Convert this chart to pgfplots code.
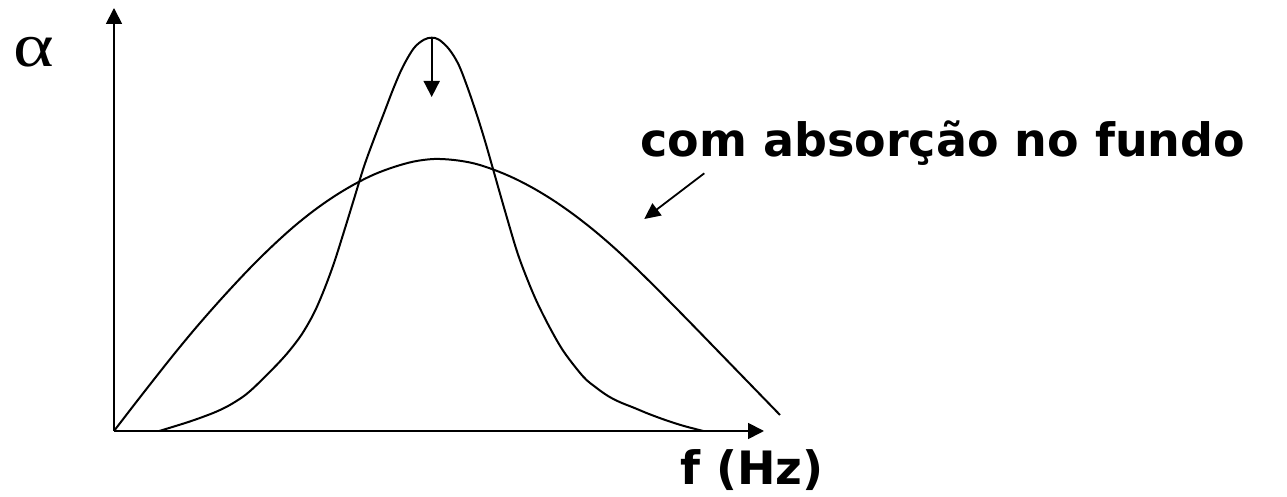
\documentclass[border=0pt]{standalone}
\usepackage{fontspec}
\setmainfont{DejaVu Sans}
\newfontfamily\seriffont{Liberation Serif}
\usepackage{graphicx}
\usepackage{pgfplots}
\pgfplotsset{compat=1.18}
\usetikzlibrary{arrows.meta}
\begin{document}
\begin{tikzpicture}
\begin{axis}[
  x=0.5pt, y=0.5pt,
  xmin=0, xmax=650, ymin=0, ymax=423,
  enlargelimits=false,
  axis lines=left,
  axis line style={line width=0.9pt},
  x axis line style={-{Triangle[width=8pt,length=8pt]}},
  y axis line style={-{Triangle[width=8pt,length=8pt]}},
  ticks=none,
  clip=false,
]
% broad curve (com absorcao no fundo)
\addplot[black, line width=1pt, smooth, tension=0.55] coordinates {
 (0,0) (20,26) (40,51.6) (60,76.8) (80,101) (100,124) (120,146) (140,167)
 (160,186.5) (180,204.5) (200,220.5) (220,234.5) (240,246.5) (260,256.5) (280,264)
 (300,269.5) (320,272) (340,271) (360,267.6) (380,261.2) (400,252.8)
 (420,242.4) (440,230.2) (460,216.2) (480,200.6) (500,183.4) (520,164.8)
 (540,145.2) (560,125) (580,104.6) (600,84) (620,63.4) (640,42.8) (660,22.2)
 (666,16)
};
% narrow curve
\addplot[black, line width=1pt, smooth, tension=0.55] coordinates {
 (45.3,0) (60,4.5) (75,9.2) (90,14.5) (102.7,19.5) (115,25.5) (129.3,34.5)
 (140,43.5) (152.7,56) (165,68.5) (176,81) (188,97) (200,118) (210,141)
 (220,168) (230,199.5) (240,232) (250,264.5) (260,292) (270,318) (280,344)
 (289,364.5) (300,383) (310,391.3) (317.7,393.3) (325,391.3) (335,381.9)
 (344.3,367) (353,345) (362.7,316.7) (371,290) (379.3,261) (391,220)
 (402.7,180.5) (412,155) (422.7,129.5) (436,103) (450,79) (469.3,54.3) (482,43.5)
 (494,35) (506,28.8) (519.3,23.5) (535,17) (552.7,10.5) (570,5) (589.3,0)
};
\draw[line width=0.9pt, -{Triangle[width=8pt,length=8pt]}]
  (axis cs:317.7,393.3) -- (axis cs:317.7,334);
\draw[line width=0.9pt, -{Triangle[width=7.5pt,length=8pt]}]
  (axis cs:590.3,257.7) -- (axis cs:530.3,212);
\node[anchor=center, inner sep=0pt, font=\seriffont\fontsize{31}{31}\selectfont] at (axis cs:-80,379) {\scalebox{1.25}[1]{α}};
\node[anchor=base west, inner sep=0pt, font=\bfseries\fontsize{23}{23}\selectfont] at (axis cs:526,274) {com absorção no fundo};
\node[anchor=base west, inner sep=0pt, font=\bfseries\fontsize{23}{23}\selectfont] at (axis cs:566,-54) {f (Hz)};
\coordinate (bl) at (axis cs:-114,-66);
\coordinate (tr) at (axis cs:1173,431);
\end{axis}
\pgfresetboundingbox
\useasboundingbox (bl) rectangle (tr);
\end{tikzpicture}
\end{document}
